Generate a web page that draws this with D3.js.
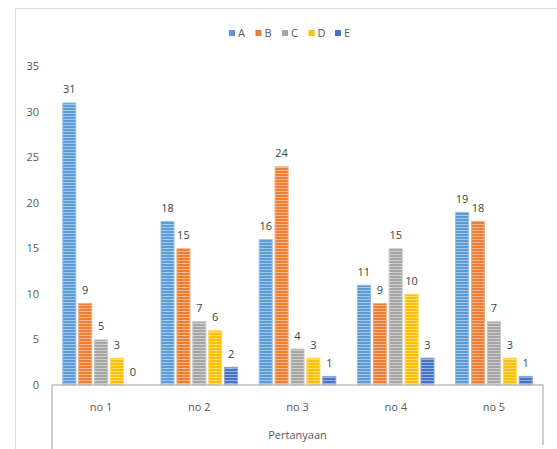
<!DOCTYPE html>
<html>
<head>
<meta charset="utf-8">
<script src="https://cdn.jsdelivr.net/npm/d3@7"></script>
<style>
  html, body { margin: 0; padding: 0; background: #fff; }
  svg { display: block; }
  text { font-family: "Open Sans", "Liberation Sans", sans-serif; }
</style>
</head>
<body>
<svg id="chart" width="557" height="449"></svg>
<script>
// Question categories and answer series
const categories = ["no 1", "no 2", "no 3", "no 4", "no 5"];
const seriesNames = ["A", "B", "C", "D", "E"];
const seriesColors = ["#5B9BD5", "#ED7D31", "#A5A5A5", "#FFC000", "#4472C4"];
const valuesA = [31, 18, 16, 11, 19];
const valuesB = [9, 15, 24, 9, 18];
const valuesC = [5, 7, 4, 15, 7];
const valuesD = [3, 6, 3, 10, 3];
const valuesE = [0, 2, 1, 3, 1];
const yTicks = [0, 5, 10, 15, 20, 25, 30, 35];
const xTitle = "Pertanyaan";

const seriesValues = [valuesA, valuesB, valuesC, valuesD, valuesE];

const svg = d3.select("#chart");
const W = 557, H = 449;

// Chart area frame (runs off the right and bottom edges)
svg.append("path")
  .attr("d", `M15.5,${H + 5} V8.5 H${W + 5}`)
  .attr("fill", "none")
  .attr("stroke", "#d9d9d9")
  .attr("stroke-width", 1);

const plot = { left: 52, right: 543, top: 66, bottom: 385 };

const x = d3.scaleBand().domain(categories).range([plot.left, plot.right]).padding(0);
const xs = d3.scaleBand().domain(seriesNames)
  .range([10.3, x.bandwidth() - 10.3]).paddingInner(0.12);
const y = d3.scaleLinear().domain([0, 35]).range([plot.bottom, plot.top]);

// Striped fills for bars
const defs = svg.append("defs");
seriesNames.forEach((s, i) => {
  const base = d3.color(seriesColors[i]);
  const light = d3.interpolateRgb(seriesColors[i], "#ffffff")(0.45);
  const p = defs.append("pattern")
    .attr("id", "stripe-" + s)
    .attr("patternUnits", "userSpaceOnUse")
    .attr("width", 6).attr("height", 3);
  p.append("rect").attr("width", 6).attr("height", 3).attr("fill", base.formatHex());
  p.append("rect").attr("y", 2).attr("width", 6).attr("height", 1).attr("fill", light);
});

// Y axis tick labels (no axis line)
const yAxis = d3.axisLeft(y).tickValues(yTicks).tickSize(0).tickPadding(0);
const yg = svg.append("g").attr("transform", `translate(39,0)`).call(yAxis);
yg.select(".domain").remove();
yg.selectAll("text")
  .attr("fill", "#595959")
  .style("font-size", "11px")
  .style("font-family", "'Open Sans', sans-serif");

// Bars
const groups = svg.append("g").selectAll("g")
  .data(categories)
  .join("g")
  .attr("transform", d => `translate(${x(d)},0)`);

groups.each(function (cat, ci) {
  const g = d3.select(this);
  seriesNames.forEach((s, si) => {
    const v = seriesValues[si][ci];
    const bx = xs(s);
    const bw = xs.bandwidth();
    if (v > 0) {
      g.append("rect")
        .attr("x", bx + 0.5)
        .attr("y", y(v) + 0.5)
        .attr("width", bw - 1)
        .attr("height", y(0) - y(v) - 0.5)
        .attr("fill", `url(#stripe-${s})`)
        .attr("stroke", d3.interpolateRgb(seriesColors[si], "#ffffff")(0.35))
        .attr("stroke-width", 1);
    }
    g.append("text")
      .attr("x", bx + bw / 2)
      .attr("y", y(v) - 9)
      .attr("text-anchor", "middle")
      .attr("fill", "#404040")
      .style("font-size", "11px")
      .text(v);
  });
});

// Category axis with box-style separators
const axisColor = "#bfbfbf";
svg.append("path")
  .attr("d", `M${plot.left},${H} V${plot.bottom} H${plot.right} V${H - 4}`)
  .attr("fill", "none")
  .attr("stroke", axisColor)
  .attr("stroke-width", 1.5);

svg.append("g").selectAll("text")
  .data(categories)
  .join("text")
  .attr("x", d => x(d) + x.bandwidth() / 2)
  .attr("y", 411)
  .attr("text-anchor", "middle")
  .attr("fill", "#595959")
  .style("font-size", "11px")
  .text(d => d);

svg.append("text")
  .attr("x", (plot.left + plot.right) / 2)
  .attr("y", 439)
  .attr("text-anchor", "middle")
  .attr("fill", "#595959")
  .style("font-size", "11px")
  .text(xTitle);

// Legend
const legend = svg.append("g").attr("transform", "translate(229,33)");
seriesNames.forEach((s, i) => {
  const lg = legend.append("g").attr("transform", `translate(${i * 26.5},0)`);
  lg.append("rect")
    .attr("x", 0).attr("y", -3)
    .attr("width", 6).attr("height", 6)
    .attr("fill", seriesColors[i]);
  lg.append("text")
    .attr("x", 9).attr("y", 4)
    .attr("fill", "#595959")
    .style("font-size", "11px")
    .text(s);
});
</script>
</body>
</html>
